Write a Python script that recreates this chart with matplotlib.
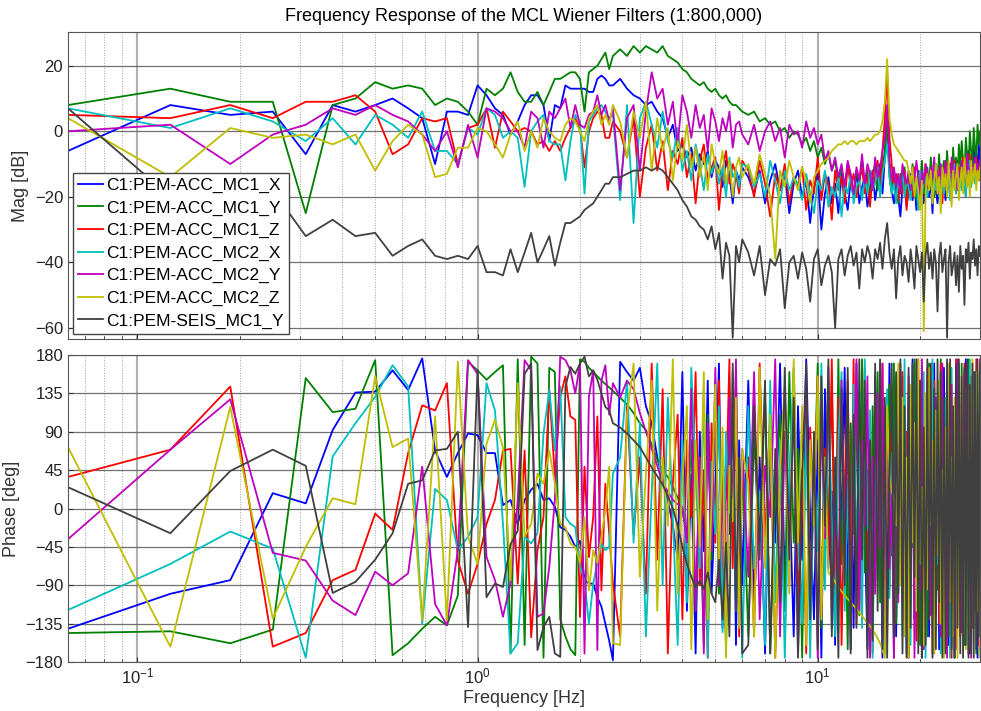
import numpy as np
import matplotlib
matplotlib.use("Agg")
import matplotlib.pyplot as plt
from matplotlib.ticker import LogLocator, NullFormatter, FixedLocator

plt.rcParams['font.family'] = ['Liberation Sans', 'DejaVu Sans']

# FFT bins (df = 0.0625 Hz): every bin up to 2.5 Hz, then every 2nd, then every 4th
bins = list(range(1, 41)) + list(range(42, 97, 2)) + list(range(100, 481, 4))
freq = 0.0625 * np.array(bins)

names = ['C1:PEM-ACC_MC1_X', 'C1:PEM-ACC_MC1_Y', 'C1:PEM-ACC_MC1_Z',
         'C1:PEM-ACC_MC2_X', 'C1:PEM-ACC_MC2_Y', 'C1:PEM-ACC_MC2_Z',
         'C1:PEM-SEIS_MC1_Y']
colors = ['#0000ff', '#008000', '#ff0000', '#00bfbf', '#bf00bf', '#bfbf00', '#404040']

# ---- magnitude [dB]
mag_mc1_x = [-6, 8, 5, 6, -7, 8, 6, 8, 10, 7, 4, -10, 6, 6, 5, 14, 11, 7, 5, -1,
             3, 8, 11, 11, 8, -3, 8, 7, 14, 13, 13, 13, 13, 12, 12, 16, 17, 16, 14, 14,
             16, 13, 11, 10, 8, 9, 6, 4, -2, 2, -6, -4, -8, -5, -12, -7, -10, -6, -14, -9,
             -11, -17, -9, -13, -22, -12, -15, -11,
             -14, -19, -12, -22, -15, -10, -18, -13, -25, -16,
             -12, -20, -15, -28, -17, -13, -30, -19, -14, -22,
             -16, -25, -13, -19, -24, -15, -20, -12, -22, -17,
             -14, -23, -18, -12, -21, -16, -10, -19, -8, 5,
             -12, -18, -22, -15, -20, -26, -17, -14, -23, -18,
             -13, -21, -16, -24, -15, -19, -12, -22, -17, -14,
             -20, -15, -25, -13, -18, -22, -16, -11, -19, -14,
             -21, -13, -17, -10, -19, -15, -12, -18, -9, -14,
             -11, -16, -8, -13, -18, -10, -6, -14, -9, -12,
             -5, -11, -7, -13, -4, -9]
mag_mc1_y = [8, 13, 9, 9, -25, 8, 10, 15, 13, 14, 13, 8, 10, 9, 6, 2, 13, 11, 13, 18,
             12, 9, 9, 12, 8, 12, 16, 16, 17, 18, 18, 16, 6, 18, 19, 20, 22, 24, 19, 23,
             25, 23, 26, 24, 26, 25, 24, 26, 23, 22, 21, 19, 18, 16, 15, 14, 15, 13, 12, 13,
             11, 10, 11, 9, 8, 8, 7, 6,
             5, 6, 3, 4, 2, 3, 0, 1, -2, 0,
             -1, -4, -2, -6, -3, -8, -5, -10, -7, -12,
             -9, -15, -11, -18, -10, -14, -20, -12, -16, -9,
             -17, -12, -21, -13, -10, -18, -14, -11, -6, 4,
             -14, -19, -12, -16, -22, -13, -17, -11, -20, -14,
             -18, -10, -15, -21, -12, -16, -9, -19, -13, -11,
             -17, -8, -14, -20, -10, -15, -7, -18, -12, -9,
             -16, -6, -13, -10, -19, -5, -12, -8, -15, -4,
             -11, -3, -9, -14, -2, -7, -12, 0, -6, -10,
             1, -5, -9, 2, -4, 0]
mag_mc1_z = [5, 4, 8, 4, 9, 9, 11, 6, -7, -4, 4, 3, 4, -10, 1, 2, 7, -5, 6, 3,
             0, 1, 0, -4, -3, -6, -3, -6, -2, 1, 4, 1, -11, 0, 4, 6, 5, -2, -2, 3,
             0, -8, 4, -20, -5, 2, -12, -3, -18, -6, -10, -2, -14, -7, -22, -9, -4, -15, -11, -8,
             -24, -12, -6, -16, -10, -13, -19, -9,
             -12, -20, -9, -16, -26, -13, -18, -10, -22, -14,
             -17, -11, -24, -15, -19, -8, -21, -13, -16, -27,
             -12, -18, -14, -22, -10, -17, -13, -20, -15, -11,
             -19, -14, -23, -12, -16, -9, -18, -6, 4, 18,
             -2, -10, -17, -13, -21, -15, -19, -12, -24, -16,
             -14, -20, -11, -18, -15, -23, -13, -17, -10, -19,
             -15, -12, -21, -16, -14, -19, -11, -17, -22, -13,
             -18, -10, -15, -20, -12, -16, -9, -19, -14, -11,
             -17, -13, -8, -15, -20, -11, -14, -7, -16, -12,
             -10, -15, -8, -13, -11, -9]
mag_mc2_x = [7, 1, 7, 3, -3, 4, -4, 5, 2, -2, 6, -6, -6, -10, 1, -1, 7, 5, -2, 0,
             -2, -17, 0, 3, 5, -3, -4, -4, -15, -3, 5, 3, -19, 3, 5, 7, 8, 6, 4, 5,
             -21, 8, -28, 4, 9, 2, -5, 6, -3, -8, 1, -12, -6, -15, -4, -10, -18, -7, -13, -9,
             -16, -11, -20, -8, -14, -12, -17, -10,
             -11, -17, -13, -20, -9, -15, -22, -12, -18, -14,
             -16, -21, -13, -19, -25, -15, -18, -12, -23, -17,
             -20, -14, -26, -16, -19, -13, -22, -17, -15, -21,
             -14, -19, -12, -18, -16, -11, -20, -13, -9, -4,
             -13, -19, -16, -22, -14, -18, -12, -20, -15, -17,
             -21, -13, -18, -15, -24, -12, -19, -16, -14, -20,
             -17, -13, -22, -15, -18, -11, -20, -14, -16, -19,
             -12, -18, -15, -21, -13, -17, -10, -19, -14, -16,
             -13, -18, -11, -16, -20, -12, -15, -9, -17, -13,
             -11, -16, -10, -14, -12, -15]
mag_mc2_y = [0, 2, -10, -1, 2, 7, 5, 8, 5, 3, -1, -6, 0, -11, 2, -8, 7, 6, 4, 0,
             0, -5, 6, 4, -5, 6, 4, 7, 10, 1, 8, 2, 1, 5, 6, 11, 5, 8, 3, 7,
             -18, 4, 8, -12, 6, 18, 10, 13, 2, 9, -4, 11, 6, -2, 8, 1, 5, -6, 7, 3,
             -3, 4, 0, 6, -5, 2, 3, -1,
             -4, 2, -6, 0, 3, -3, 1, -8, 2, -1,
             0, -5, 3, -2, 1, -4, -1, -9, -6, -12,
             -8, -14, -10, -17, -9, -13, -19, -11, -15, -7,
             -16, -10, -13, -18, -8, -14, -11, -6, -2, 8,
             -9, -15, -11, -17, -13, -19, -10, -14, -16, -12,
             -18, -11, -15, -9, -14, -20, -12, -16, -10, -13,
             -17, -11, -14, -8, -15, -12, -19, -10, -13, -16,
             -9, -14, -11, -17, -8, -13, -15, -10, -18, -12,
             -14, -9, -16, -11, -13, -7, -15, -12, -10, -14,
             -11, -8, -13, -10, -15, -9]
mag_mc2_z = [4, -14, 1, -2, -1, -4, -1, -12, -3, 2, -1, -14, -13, -5, -5, 1, 0, -4, -8, -1,
             3, -6, 0, -5, 4, 0, -2, -3, 2, 4, 3, 0, -3, 4, 6, 8, 2, 5, 2, 8,
             3, -8, 6, -2, 9, -12, 4, -6, 1, -15, -3, -9, 2, -11, -5, -14, -7, -18, -4, -10,
             -13, -6, -16, -9, -20, -11, -8, -14,
             -10, -16, -7, -13, -20, -39, -12, -17, -9, -14,
             -18, -11, -15, -22, -14, -12, -10, -9, -8, -6,
             -5, -4, -4, -3, -4, -3, -3, -4, -3, -3,
             -3, -2, -3, -2, -1, -1, 0, 3, 9, 22,
             4, -1, -4, -5, -6, -7, -8, -9, -9, -12,
             -16, -11, -20, -14, -18, -24, -15, -61, -19, -13,
             -18, -12, -22, -15, -10, -19, -14, -25, -11, -17,
             -13, -20, -9, -16, -23, -12, -18, -14, -10, -21,
             -15, -11, -19, -8, -14, -17, -12, -20, -9, -16,
             -13, -10, -18, -12, -15, -11]
mag_seis = [7, -20, -13, -18, -32, -27, -32, -31, -38, -35, -33, -38, -39, -38, -39, -35, -43, -43, -44, -36,
            -43, -37, -31, -40, -36, -32, -41, -34, -28, -28, -27, -26, -24, -23, -22, -20, -18, -16, -16, -14,
            -14, -13, -12, -12, -11, -12, -11, -12, -14, -16, -18, -21, -23, -26, -27, -29, -30, -33, -29, -36,
            -31, -45, -34, -38, -63, -35, -40, -33,
            -37, -44, -35, -50, -39, -41, -36, -54, -40, -38,
            -45, -37, -42, -52, -39, -36, -47, -41, -38, -43,
            -60, -39, -36, -44, -38, -35, -41, -37, -48, -36,
            -40, -35, -38, -45, -36, -39, -34, -42, -33, -28,
            -37, -42, -36, -51, -39, -35, -44, -38, -40, -46,
            -36, -41, -48, -35, -39, -43, -37, -52, -38, -34,
            -42, -37, -45, -36, -40, -55, -38, -34, -43, -39,
            -36, -63, -40, -35, -44, -41, -37, -47, -38, -49,
            -35, -42, -38, -53, -36, -40, -34, -45, -37, -39,
            -33, -41, -36, -44, -35, -38]

# ---- phase [deg]
ph_mc1_x = [-141, -100, -84, 18, 6, 92, 136, 137, 162, 139, 176, 68, 37, 65, 88, 86, 65, 65, 4, 10,
            -18, 10, 22, 29, 10, 12, 2, -22, -25, -33, -45, -38, -84, -88, -88, -104, -115, -135, -155, -178,
            172, 160, 150, 165, 120, 100, 60, 35, 10, -20, -60, 160, -120, 40, -170, 90, -50, 150, -100, 20,
            170, -140, 60, -30, 130, -160, 80, -90,
            150, -120, 60, -170, 100, -40, 170, -90, 30, -150, 120, -60,
            175, -10, -130, 80, -175, 140, -70, 20, -160, 110, -30, 165,
            -100, 50, -140, 170, -80, 130, -20, -165, 90, -120, 155, -55,
            40, -175, 120, -90, 170, -35, 70, -150, 10, 160, -110, 85,
            -170, 130, -60, 175, -130, 25, -80, 150, -175, 100, -15, 140,
            -150, 60, -100, 170, -40, 115, -165, 80, -125, 165, -70, 30,
            -160, 145, -20, 95, -175, 60, -110, 170, -50, 125, -140, 10,
            175, -95, 50, -170, 135, -30, 160, -120, 75, -175, 110, -60]
ph_mc1_y = [-146, -144, -158, -142, 153, 113, 117, 174, -172, -158, -141, -127, -137, -102, 172, 162, 151, 160, 168, -170,
            175, -160, 178, 170, -175, 165, 160, -130, -150, -165, -172, 175, 172, 165, 160, 155, 150, 146, 142, 138,
            130, 122, 112, 100, 92, 75, 57, 45, 37, 25, 13, -2, -30, 80, -120, 20, -160, 110, -60, 150,
            -100, 40, -170, 90, -20, 160, -130, 60,
            -150, 90, -60, 140, -170, 20, 110, -120, 160, -40, 70, -175,
            125, -85, 10, 170, -140, 55, -20, 150, -100, 175, -65, 35,
            -165, 100, -30, 135, -125, 175, -75, 45, -155, 120, -10, 160,
            -110, 75, -170, 30, 145, -55, 170, -135, 90, -20, 155, -90,
            65, -175, 110, -45, 175, -115, 25, -160, 140, -70, 100, -150,
            170, -30, 80, -165, 125, -95, 45, 175, -140, 15, -60, 150,
            -120, 165, -10, 95, -175, 55, -135, 120, -80, 170, -25, -160,
            105, -50, 175, -145, 35, 130, -100, 160, -170, 70, -15, 145]
ph_mc1_z = [37, 69, 143, -162, -146, -84, -72, -6, -25, 65, 121, 115, 147, -61, -100, -65, -18, 10, 68, 70,
            -88, 68, -151, -49, -10, 139, 37, 131, 155, 108, 104, -127, 49, -57, -10, 108, -96, 29, -29, -88,
            -150, 120, -30, 60, -100, 170, -60, 140, -170, 30, 110, -130, 80, -10, 160, -90, 45, -175, 100, -40,
            150, -120, 15, 175, -70, 130, -150, 55,
            60, -150, 170, -40, 110, -175, 20, 140, -90, 165, -120, 45,
            -170, 95, -15, 155, -125, 70, -60, 175, -100, 130, -160, 25,
            150, -80, 175, -135, 40, -20, 165, -110, 85, -170, 120, -45,
            10, 170, -145, 65, -95, 145, -175, 30, 125, -65, 160, -130,
            90, -175, 140, -25, 55, -155, 175, -85, 110, -140, 5, 165,
            -115, 80, -170, 150, -50, 35, -135, 170, -75, 120, -165, 60,
            140, -35, -175, 100, -120, 175, -10, 75, -150, 130, -90, 170,
            -60, 115, -170, 45, 155, -140, 85, -30, 175, -105, 20, -165]
ph_mc2_x = [-119, -65, -27, -47, -175, 61, 100, 131, 168, 143, -135, 23, 10, -49, -33, -10, 147, 115, -18, -170,
            -158, -33, -41, -29, 88, 139, 68, 143, -10, -18, -22, -68, -84, -135, -88, -64, -41, -49, -45, 41,
            60, 150, -40, 100, -150, 20, 170, -90, 130, -10, -160, 80, -110, 165, 40, -70, 140, -175, 55, -30,
            120, -145, 90, -5, 160, -120, 30, -175,
            120, -70, 20, -160, 150, -110, 80, -175, 40, 165, -30, -135,
            100, -175, 55, -50, 170, -95, 130, -15, -150, 75, 160, -120,
            35, -165, 145, -60, 90, -140, 175, -25, 115, -175, 60, -85,
            170, -130, 15, 140, -105, 65, -170, 155, -40, 100, -150, 175,
            -70, 25, -160, 135, -10, 170, -120, 85, -55, 160, -175, 45,
            120, -90, 175, -145, 30, -65, 150, -170, 95, -20, 130, -110,
            60, -175, 165, -40, 110, -135, 20, 170, -100, 70, -160, 140,
            -15, 90, -165, 175, -75, 50, -140, 125, -30, 160, -120, 80]
ph_mc2_y = [-36, 69, 128, -52, -61, -108, -125, -74, -90, -76, 49, -112, -137, -49, 174, 158, -57, -84, -127, -88,
            10, 174, 162, -127, -123, -68, 10, 178, 174, 162, 135, 170, -170, 131, 162, -166, 150, 168, 110, 147,
            130, 150, 140, 112, 90, 70, 50, 30, 20, 10, 5, 2, -40, 140, -120, 60, -170, 100, -50, 165,
            -90, 25, -150, 130, -10, 175, -110, 70,
            -80, 160, -130, 50, -10, 175, -150, 90, -60, 130, -170, 30,
            145, -105, 70, -175, 115, -35, 165, -140, 10, -90, 150, -55,
            100, -165, 40, 175, -120, 80, -20, 155, -175, 60, -100, 135,
            -45, 170, -155, 95, -70, 25, -175, 140, -110, 170, -15, 65,
            -140, 155, -60, 120, -175, 40, 110, -95, 175, -165, 75, -25,
            160, -125, 20, -170, 130, -45, 90, -150, 170, -80, 55, -175,
            115, -10, 145, -130, 65, -165, 175, -55, 100, -145, 30, 160,
            -90, 170, -35, 120, -175, 85, -120, 150, -60, 10, -160, 175]
ph_mc2_z = [72, -162, 119, -129, -45, 12, 5, 155, 72, 82, -131, 108, -131, 172, -33, -65, 76, 104, 72, -84,
            147, -33, -18, 41, 29, 68, 29, -18, -22, -41, -45, -63, -10, -96, -49, -64, -33, -2, 49, -158,
            -160, 110, 170, -80, 40, 150, -120, 60, -20, 175, -100, 30, 120, -165, 80, -45, 160, -130, 10, 145,
            -75, 95, -175, 50, -15, 130, -140, 70,
            30, -150, 165, -70, 110, -175, 50, 145, -100, 175, -40, 120,
            -160, 80, -20, 155, -130, 60, -75, -80, -86, -92, -97, -102,
            -106, -110, -114, -118, -122, -126, -130, -134, -138, -142, -147, -152,
            -158, -165, -175, 120, 40, 20, 10, -20, 170, -90, 130, -150,
            60, -175, 145, -40, 100, -120, 175, -65, 25, -160, 135, -95,
            165, -20, 80, -170, 115, -55, 150, -135, 45, -175, 95, -30,
            170, -110, 60, -150, 130, -15, -175, 100, -70, 155, -125, 35,
            -165, 140, -50, 90, -140, 175, -85, 20, 160, -120, 70, -175]
ph_seis = [25, -29, 44, 69, 50, -99, -86, -60, -29, 29, 33, 68, 70, 90, -139, 162, -104, -88, -92, -42,
           -26, 158, 170, -166, -139, -127, -170, -174, 143, 166, 158, 170, 178, 155, 162, 151, 135, 119, 115, 100,
           95, 88, 80, 72, 60, 48, 38, 28, 15, 0, -20, -45, -65, -80, -92, -85, -95, -75, -100, -110,
           -60, -130, -40, -150, 170, -120, 60, -170,
           -160, 120, -40, 150, -170, 70, -110, 165, -60, 130, -175, 40,
           170, -130, 90, -165, 155, -20, 175, -150, 60, -175, 140, -90,
           165, -170, 110, -140, 175, -60, 150, -175, 80, -155, 170, -120,
           175, -165, 130, -175, 45, 170, -150, 160, -100, 175, -170, 120,
           -175, 165, -140, 170, -80, 175, -170, 150, -175, 95, -160, 175,
           -130, 170, -175, 140, -165, 175, -110, 160, -175, 130, -170, 175,
           -150, 175, -165, 120, -175, 170, -140, 175, -170, 155, -175, 165,
           -160, 175, -175, 145, -170, 170, -175, 160, -165, 175, -150, 170]

mags = [mag_mc1_x, mag_mc1_y, mag_mc1_z, mag_mc2_x, mag_mc2_y, mag_mc2_z, mag_seis]
phases = [ph_mc1_x, ph_mc1_y, ph_mc1_z, ph_mc2_x, ph_mc2_y, ph_mc2_z, ph_seis]

fig = plt.figure(figsize=(9.81, 7.11), dpi=100)
ax1 = fig.add_axes([0.0693, 0.5232, 0.9297, 0.4318])
ax2 = fig.add_axes([0.0693, 0.0689, 0.9297, 0.4318])

for name, c, m, p in zip(names, colors, mags, phases):
    ax1.plot(freq, m, color=c, lw=1.3, label=name)
    ax2.plot(freq, p, color=c, lw=1.3)


def style(ax):
    ax.set_xscale('log')
    ax.set_xlim(0.0625, 30)
    ax.xaxis.set_major_locator(FixedLocator([0.1, 1, 10]))
    ax.xaxis.set_minor_locator(LogLocator(base=10, subs=np.arange(2, 10)))
    ax.xaxis.set_minor_formatter(NullFormatter())
    ax.grid(True, which='major', axis='y', color='#707070', lw=0.9, ls='-')
    ax.grid(True, which='major', axis='x', color='#b0b0b0', lw=1.5, ls='-')
    ax.grid(True, which='minor', axis='x', color='#a0a0a0', lw=0.7, ls=':')
    ax.set_axisbelow(True)
    ax.tick_params(which='both', direction='in', labelsize=12, colors='#333333',
                   labelcolor='#222222')
    for s in ax.spines.values():
        s.set_color('#555555')


style(ax1)
style(ax2)

ax1.set_ylim(-63.4, 30.3)
ax1.set_yticks([-60, -40, -20, 0, 20])
ax1.tick_params(axis='x', labelbottom=False)
ax1.set_ylabel('Mag [dB]', fontsize=13, color='#333333')
ax1.set_title('Frequency Response of the MCL Wiener Filters (1:800,000)', fontsize=13, pad=8)

ax2.set_ylim(-180, 180)
ax2.set_yticks(np.arange(-180, 181, 45))
ax2.set_ylabel('Phase [deg]', fontsize=13, color='#333333')
ax2.set_xlabel('Frequency [Hz]', fontsize=13, color='#333333', labelpad=2)

leg = ax1.legend(loc='lower left', fontsize=12.5, handlelength=1.4, handletextpad=0.2,
                 borderaxespad=0.3, borderpad=0.3, labelspacing=0.42, fancybox=False,
                 framealpha=1, edgecolor='#444444')
leg.get_frame().set_linewidth(1.0)

fig.savefig('out.png', dpi=100)
